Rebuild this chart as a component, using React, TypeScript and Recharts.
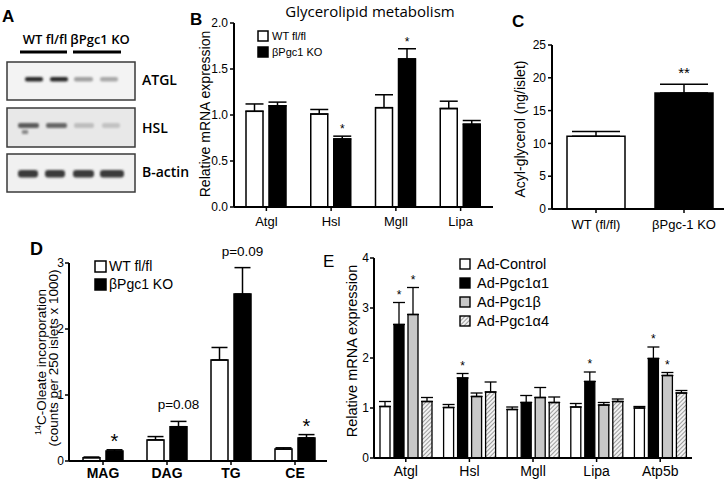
import React from 'react';
import { BarChart, Bar, XAxis, YAxis, ErrorBar, Cell, LabelList } from 'recharts';

// B: glycerolipid genes, qPCR
const lipidGenes = ['Atgl', 'Hsl', 'Mgll', 'Lipa'];
const lipidWt = [1.04, 1.01, 1.08, 1.07];
const lipidWtSem = [0.08, 0.05, 0.14, 0.08];
const lipidKo = [1.1, 0.74, 1.61, 0.9];
const lipidKoSem = [0.04, 0.03, 0.11, 0.04];
const lipidKoNote = ['', '*', '*', ''];

// C: acyl-glycerol content
const acylGroups = ['WT (fl/fl)', 'βPgc-1 KO'];
const acylValues = [11.1, 17.7];
const acylSem = [0.7, 1.3];
const acylNote = ['', '**'];
const acylFills = ['#ffffff', '#000000'];

// D: 14C-oleate incorporation
const oleateClasses = ['MAG', 'DAG', 'TG', 'CE'];
const oleateWt = [0.05, 0.32, 1.53, 0.18];
const oleateWtSem = [0.01, 0.05, 0.19, 0.02];
const oleateKo = [0.15, 0.52, 2.53, 0.35];
const oleateKoSem = [0.02, 0.08, 0.4, 0.05];
const oleateKoNote = ['*', 'p=0.08', 'p=0.09', '*'];

// E: adenoviral overexpression
const adGenes = ['Atgl', 'Hsl', 'Mgll', 'Lipa', 'Atp5b'];
const adControl = [1.03, 1.01, 0.97, 1.02, 1.0];
const adControlSem = [0.1, 0.06, 0.05, 0.07, 0.03];
const adA1 = [2.67, 1.6, 1.11, 1.53, 1.99];
const adA1Sem = [0.44, 0.09, 0.14, 0.19, 0.23];
const adB = [2.87, 1.23, 1.21, 1.06, 1.65];
const adBSem = [0.54, 0.07, 0.2, 0.05, 0.06];
const adA4 = [1.13, 1.32, 1.11, 1.13, 1.3];
const adA4Sem = [0.08, 0.2, 0.11, 0.05, 0.05];
const adA1Note = ['*', '*', '', '*', '*'];
const adBNote = ['*', '', '', '', '*'];

const FONT = '"Liberation Sans", Arial, sans-serif';
const HUMAN = '"Open Sans", "Noto Sans", sans-serif';

const lipidRows = lipidGenes.map((gene, i) => ({
  gene,
  wt: lipidWt[i],
  wtErr: [0, lipidWtSem[i]],
  ko: lipidKo[i],
  koErr: [0, lipidKoSem[i]],
  koNote: lipidKoNote[i],
}));

const acylRows = acylGroups.map((group, i) => ({
  group,
  value: acylValues[i],
  err: [0, acylSem[i]],
  note: acylNote[i],
}));

const oleateRows = oleateClasses.map((cls, i) => ({
  cls,
  wt: oleateWt[i],
  wtErr: [0, oleateWtSem[i]],
  ko: oleateKo[i],
  koErr: [0, oleateKoSem[i]],
  koNote: oleateKoNote[i],
}));

const adRows = adGenes.map((gene, i) => ({
  gene,
  control: adControl[i],
  controlErr: [0, adControlSem[i]],
  a1: adA1[i],
  a1Err: [0, adA1Sem[i]],
  b: adB[i],
  bErr: [0, adBSem[i]],
  a4: adA4[i],
  a4Err: [0, adA4Sem[i]],
  a1Note: adA1Note[i],
  bNote: adBNote[i],
}));

// note above the error bar: bar height / value gives the scale
const makeNote = (values: number[], sems: number[], size: number, lift: number) => (props: any) => {
  const vb = props.viewBox || {};
  const x = props.x ?? vb.x;
  const y = props.y ?? vb.y;
  const width = props.width ?? vb.width;
  const height = props.height ?? vb.height;
  const i = props.index;
  if (!props.value || i == null) return null;
  const unit = Math.abs(height) / values[i];
  const top = y - sems[i] * unit;
  return (
    <text x={x + width / 2} y={top - lift} textAnchor="middle" fontSize={size} fontFamily={FONT} fill="#000">
      {props.value}
    </text>
  );
};

const axisLine = { stroke: '#000', strokeWidth: 2 };
const tickLine = { stroke: '#000', strokeWidth: 1.5 };
const tickText = (size: number, bold = false) => ({ fill: '#000', fontSize: size, fontFamily: FONT, fontWeight: bold ? 700 : 400 });

const Blot: React.FC = () => {
  const atgl = [
    [25, 43, '#2b2b2b'],
    [50, 68, '#2b2b2b'],
    [74, 93, '#a0a0a0'],
    [100, 118, '#a8a8a8'],
  ];
  const hsl = [
    [18, 39, '#5a5a5a'],
    [46, 67, '#666'],
    [74, 94, '#bdbdbd'],
    [102, 120, '#c2c2c2'],
  ];
  const actin = [
    [18, 38, '#3a3a3a'],
    [45, 65, '#3a3a3a'],
    [73, 94, '#3a3a3a'],
    [100, 124, '#3a3a3a'],
  ];
  return (
    <g>
      <defs>
        <filter id="blotBlur" x="-20%" y="-50%" width="140%" height="200%">
          <feGaussianBlur stdDeviation="0.9" />
        </filter>
      </defs>
      <text x={45} y={44} textAnchor="middle" fontSize={13} fontWeight={600} fontFamily={HUMAN}>WT fl/fl</text>
      <text x={100} y={44} textAnchor="middle" fontSize={13} fontWeight={600} fontFamily={HUMAN}>βPgc1 KO</text>
      <line x1={20} x2={67} y1={52} y2={52} stroke="#000" strokeWidth={3} />
      <line x1={73} x2={121} y1={52} y2={52} stroke="#000" strokeWidth={3} />
      <rect x={7} y={62} width={128} height={38} fill="#f3f3f3" stroke="#3a3a3a" strokeWidth={1.5} />
      <rect x={7} y={108} width={128} height={39} fill="#e8e8e8" stroke="#3a3a3a" strokeWidth={1.5} />
      <rect x={7} y={154} width={128} height={38} fill="#f1f1f1" stroke="#3a3a3a" strokeWidth={1.5} />
      <g filter="url(#blotBlur)">
        {atgl.map(([a, b, c], i) => (
          <rect key={`a${i}`} x={a as number} y={77} width={(b as number) - (a as number)} height={4.5} rx={2} fill={c as string} />
        ))}
        {hsl.map(([a, b, c], i) => (
          <rect key={`h${i}`} x={a as number} y={123} width={(b as number) - (a as number)} height={5} rx={2} fill={c as string} />
        ))}
        <rect x={22} y={130} width={6} height={4} fill="#888" />
        {actin.map(([a, b, c], i) => (
          <rect key={`b${i}`} x={a as number} y={170} width={(b as number) - (a as number)} height={7.5} rx={3} fill={c as string} />
        ))}
      </g>
      <text x={142} y={85} fontSize={14} fontWeight={600} fontFamily={HUMAN}>ATGL</text>
      <text x={142} y={133} fontSize={14} fontWeight={600} fontFamily={HUMAN}>HSL</text>
      <text x={142} y={177} fontSize={14} fontWeight={600} fontFamily={HUMAN}>B-actin</text>
    </g>
  );
};

const Overlay: React.FC = () => (
  <svg width={724} height={480} style={{ position: 'absolute', left: 0, top: 0, pointerEvents: 'none' }}>
    <defs>
      <pattern id="hatchLegend" patternUnits="userSpaceOnUse" width={3} height={3} patternTransform="rotate(45)">
        <rect width={3} height={3} fill="#f2f2f2" />
        <line x1={0} y1={0} x2={0} y2={3} stroke="#777" strokeWidth={1.4} />
      </pattern>
    </defs>
    <Blot />
    {/* panel letters */}
    <text x={2} y={22} fontSize={17} fontWeight={700} fontFamily={FONT}>A</text>
    <text x={190} y={25} fontSize={17} fontWeight={700} fontFamily={FONT}>B</text>
    <text x={512} y={27} fontSize={17} fontWeight={700} fontFamily={FONT}>C</text>
    <text x={30} y={255} fontSize={18} fontWeight={700} fontFamily={FONT}>D</text>
    <text x={323} y={267} fontSize={17} fontFamily={FONT}>E</text>

    {/* B */}
    <text x={370} y={17} textAnchor="middle" fontSize={15} fontFamily={HUMAN}>Glycerolipid metabolism</text>
    <text transform="translate(210,114) rotate(-90)" textAnchor="middle" fontSize={14} fontFamily={FONT}>Relative mRNA expression</text>
    <rect x={258} y={31} width={10} height={10} fill="#fff" stroke="#000" strokeWidth={1.5} />
    <rect x={258} y={47} width={10} height={10} fill="#000" stroke="#000" strokeWidth={1.5} />
    <text x={272} y={40} fontSize={11} fontFamily={FONT}>WT fl/fl</text>
    <text x={272} y={56} fontSize={11} fontFamily={FONT}>βPgc1 KO</text>

    {/* C */}
    <text transform="translate(525,129) rotate(-90)" textAnchor="middle" fontSize={14} fontFamily={FONT}>Acyl-glycerol (ng/islet)</text>

    {/* D */}
    <text transform="translate(45.5,362) rotate(-90)" textAnchor="middle" fontSize={13.5} fontFamily={FONT}>
      <tspan fontSize={9} dy={-5}>14</tspan>
      <tspan dy={5}>C-Oleate incorporation</tspan>
    </text>
    <text transform="translate(57.5,358) rotate(-90)" textAnchor="middle" fontSize={13.5} fontFamily={FONT}>(counts per 250 islets x 1000)</text>
    <rect x={95} y={261} width={11} height={11} fill="#fff" stroke="#000" strokeWidth={1.5} />
    <rect x={95} y={279} width={11} height={11} fill="#000" stroke="#000" strokeWidth={1.5} />
    <text x={109} y={271} fontSize={14} fontFamily={FONT}>WT fl/fl</text>
    <text x={109} y={289} fontSize={14} fontFamily={FONT}>βPgc1 KO</text>

    {/* E */}
    <text transform="translate(356.5,351) rotate(-90)" textAnchor="middle" fontSize={14.5} fontFamily={FONT}>Relative mRNA expression</text>
    {[
      ['Ad-Control', '#fff'],
      ['Ad-Pgc1α1', '#000'],
      ['Ad-Pgc1β', '#c8c8c8'],
      ['Ad-Pgc1α4', 'url(#hatchLegend)'],
    ].map(([name, fill], i) => (
      <g key={name}>
        <rect x={460} y={259 + i * 19} width={10} height={10} fill={fill} stroke="#000" strokeWidth={1.4} />
        <text x={477} y={269 + i * 19} fontSize={14.5} fontFamily={FONT}>{name}</text>
      </g>
    ))}
  </svg>
);

const App: React.FC = () => {
  return (
    <div style={{ position: 'absolute', left: 0, top: 0, width: 724, height: 480, overflow: 'hidden', background: '#fff' }}>
      {/* B */}
      <div style={{ position: 'absolute', left: 190, top: 0 }}>
        <BarChart width={310} height={240} data={lipidRows} margin={{ top: 23, right: 7, bottom: 5, left: 0 }} barSize={17} barGap={6}>
          <XAxis dataKey="gene" height={28} interval={0} tickSize={4} tickMargin={6} axisLine={axisLine} tickLine={tickLine} tick={tickText(13)} />
          <YAxis width={44} domain={[0, 2]} ticks={[0, 0.5, 1, 1.5, 2]} tickFormatter={(v: number) => v.toFixed(1)} tickSize={4} tickMargin={2} axisLine={axisLine} tickLine={tickLine} tick={tickText(12)} />
          <Bar dataKey="wt" fill="#fff" stroke="#000" strokeWidth={1.5} isAnimationActive={false}>
            <ErrorBar dataKey="wtErr" width={9} stroke="#000" strokeWidth={1.5} />
          </Bar>
          <Bar dataKey="ko" fill="#000" stroke="#000" strokeWidth={1.5} isAnimationActive={false}>
            <ErrorBar dataKey="koErr" width={9} stroke="#000" strokeWidth={1.5} />
            <LabelList dataKey="koNote" content={makeNote(lipidKo, lipidKoSem, 12, 3)} />
          </Bar>
        </BarChart>
      </div>

      {/* C */}
      <div style={{ position: 'absolute', left: 520, top: 0 }}>
        <BarChart width={208} height={240} data={acylRows} margin={{ top: 45, right: 0, bottom: 6, left: 0 }} barSize={58}>
          <XAxis dataKey="group" height={25} interval={0} tickSize={4} tickMargin={7} axisLine={axisLine} tickLine={tickLine} tick={tickText(13)} />
          <YAxis width={32} domain={[0, 25]} ticks={[0, 5, 10, 15, 20, 25]} tickSize={4} tickMargin={2} axisLine={axisLine} tickLine={tickLine} tick={tickText(12)} />
          <Bar dataKey="value" stroke="#000" strokeWidth={1.5} isAnimationActive={false}>
            {acylRows.map((r, i) => (
              <Cell key={r.group} fill={acylFills[i]} />
            ))}
            <ErrorBar dataKey="err" width={24} stroke="#000" strokeWidth={1.5} />
            <LabelList dataKey="note" content={makeNote(acylValues, acylSem, 15, 6)} />
          </Bar>
        </BarChart>
      </div>

      {/* D */}
      <div style={{ position: 'absolute', left: 0, top: 240 }}>
        <BarChart width={340} height={244} data={oleateRows} margin={{ top: 23, right: 13, bottom: 0, left: 0 }} barSize={17} barGap={6}>
          <XAxis dataKey="cls" height={23} interval={0} padding={{ left: 2, right: 0 }} tickSize={4} tickMargin={3} axisLine={axisLine} tickLine={tickLine} tick={tickText(14, true)} />
          <YAxis width={69} domain={[0, 3]} ticks={[0, 1, 2, 3]} tickSize={4} tickMargin={1} axisLine={axisLine} tickLine={tickLine} tick={tickText(12)} />
          <Bar dataKey="wt" fill="#fff" stroke="#000" strokeWidth={1.5} isAnimationActive={false}>
            <ErrorBar dataKey="wtErr" width={8} stroke="#000" strokeWidth={1.5} />
          </Bar>
          <Bar dataKey="ko" fill="#000" stroke="#000" strokeWidth={1.5} isAnimationActive={false}>
            <ErrorBar dataKey="koErr" width={8} stroke="#000" strokeWidth={1.5} />
            <LabelList
              dataKey="koNote"
              content={(p: any) =>
                p.value && p.value.length > 1
                  ? makeNote(oleateKo, oleateKoSem, 13.5, 12)(p)
                  : makeNote(oleateKo, oleateKoSem, 20, 2)(p)
              }
            />
          </Bar>
        </BarChart>
      </div>

      {/* E */}
      <div style={{ position: 'absolute', left: 320, top: 240 }}>
        <BarChart width={404} height={240} data={adRows} margin={{ top: 18, right: 32, bottom: 0, left: 0 }} barSize={10} barGap={4}>
          <defs>
            <pattern id="hatchE" patternUnits="userSpaceOnUse" width={3} height={3} patternTransform="rotate(45)">
              <rect width={3} height={3} fill="#f2f2f2" />
              <line x1={0} y1={0} x2={0} y2={3} stroke="#777" strokeWidth={1.4} />
            </pattern>
          </defs>
          <XAxis dataKey="gene" height={22} interval={0} tickSize={4} tickMargin={4} axisLine={axisLine} tickLine={tickLine} tick={tickText(14)} />
          <YAxis width={54} domain={[0, 4]} ticks={[0, 1, 2, 3, 4]} tickSize={4} tickMargin={1} axisLine={axisLine} tickLine={tickLine} tick={tickText(12)} />
          <Bar dataKey="control" fill="#fff" stroke="#000" strokeWidth={1.3} isAnimationActive={false}>
            <ErrorBar dataKey="controlErr" width={6} stroke="#000" strokeWidth={1.3} />
          </Bar>
          <Bar dataKey="a1" fill="#000" stroke="#000" strokeWidth={1.3} isAnimationActive={false}>
            <ErrorBar dataKey="a1Err" width={6} stroke="#000" strokeWidth={1.3} />
            <LabelList dataKey="a1Note" content={makeNote(adA1, adA1Sem, 12, 4)} />
          </Bar>
          <Bar dataKey="b" fill="#c8c8c8" stroke="#000" strokeWidth={1.3} isAnimationActive={false}>
            <ErrorBar dataKey="bErr" width={6} stroke="#000" strokeWidth={1.3} />
            <LabelList dataKey="bNote" content={makeNote(adB, adBSem, 12, 4)} />
          </Bar>
          <Bar dataKey="a4" fill="url(#hatchE)" stroke="#000" strokeWidth={1.3} isAnimationActive={false}>
            <ErrorBar dataKey="a4Err" width={6} stroke="#000" strokeWidth={1.3} />
          </Bar>
        </BarChart>
      </div>

      <Overlay />
    </div>
  );
};

export default App;
